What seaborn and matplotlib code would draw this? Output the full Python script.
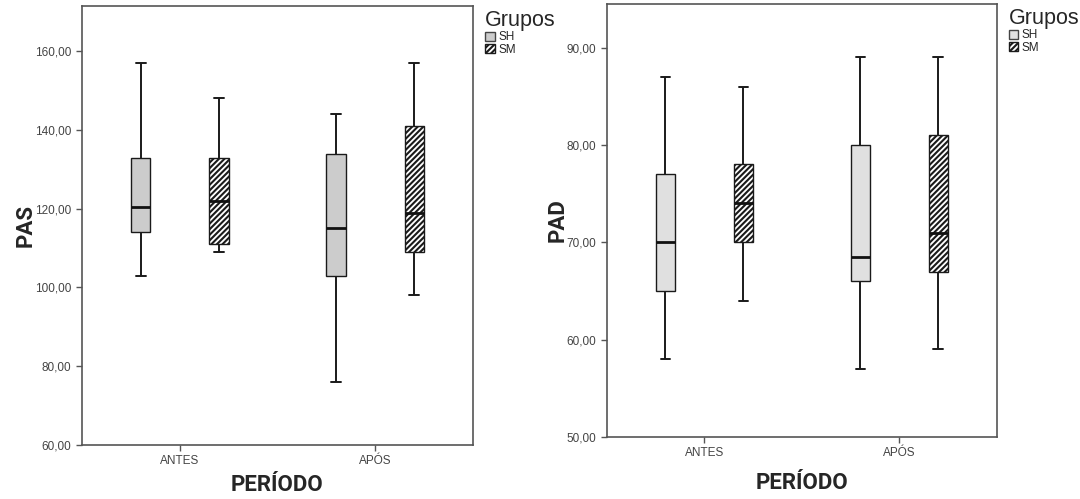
import pandas as pd
import matplotlib.pyplot as plt
import seaborn as sns
from matplotlib.patches import Patch
from matplotlib.ticker import FuncFormatter

# Categories
periodos = ['ANTES', 'APÓS']
grupos = ['SH', 'SM']

# Five-number summaries: min, Q1, median, Q3, max
pas_sh_antes = [103, 114, 120.5, 133, 157]
pas_sm_antes = [109, 111, 122, 133, 148]
pas_sh_apos = [76, 103, 115, 134, 144]
pas_sm_apos = [98, 109, 119, 141, 157]

pad_sh_antes = [58, 65, 70, 77, 87]
pad_sm_antes = [64, 70, 74, 78, 86]
pad_sh_apos = [57, 66, 68.5, 80, 89]
pad_sm_apos = [59, 67, 71, 81, 89]


def long_table(name, sh_antes, sm_antes, sh_apos, sm_apos):
    rows = []
    for per, grp, vals in [('ANTES', 'SH', sh_antes), ('ANTES', 'SM', sm_antes),
                           ('APÓS', 'SH', sh_apos), ('APÓS', 'SM', sm_apos)]:
        for v in vals:
            rows.append({'PERÍODO': per, 'Grupos': grp, name: v})
    return pd.DataFrame(rows)


pas = long_table('PAS', pas_sh_antes, pas_sm_antes, pas_sh_apos, pas_sm_apos)
pad = long_table('PAD', pad_sh_antes, pad_sm_antes, pad_sh_apos, pad_sm_apos)

sns.set_style('white')
plt.rcParams['font.family'] = ['Liberation Sans', 'DejaVu Sans']
plt.rcParams['hatch.linewidth'] = 1.5

narrow = ['Liberation Sans Narrow', 'DejaVu Sans Condensed', 'Roboto', 'DejaVu Sans']
comma_fmt = FuncFormatter(lambda v, p: f'{v:.2f}'.replace('.', ','))

fig = plt.figure(figsize=(10.8, 4.99), dpi=100)
ax1 = fig.add_axes([0.0759, 0.1082, 0.362, 0.880])
ax2 = fig.add_axes([0.562, 0.1242, 0.361, 0.868])

panels = [
    (ax1, pas, 'PAS', '#cccccc', (60, 171.5), range(60, 161, 20), 5),
    (ax2, pad, 'PAD', '#e0e0e0', (50, 94.5), range(50, 91, 10), 9),
]

for ax, df, var, sh_color, ylim, yticks, xpad in panels:
    sns.boxplot(data=df, x='PERÍODO', y=var, hue='Grupos', order=periodos,
                hue_order=grupos, palette={'SH': sh_color, 'SM': 'white'},
                width=0.8, gap=0.75, whis=(0, 100), linecolor='#1a1a1a',
                linewidth=1, legend=False, ax=ax,
                whiskerprops={'linewidth': 1.4}, capprops={'linewidth': 1.4},
                medianprops={'linewidth': 2, 'color': '#111111'})
    for patch in ax.patches:
        fc = patch.get_facecolor()
        if fc[0] > 0.99 and fc[1] > 0.99 and fc[2] > 0.99:
            patch.set_hatch('//////')
            patch.set_edgecolor('#1a1a1a')

    ax.set_xlim(-0.5, 1.5)
    ax.set_ylim(*ylim)
    ax.set_yticks(list(yticks))
    ax.yaxis.set_major_formatter(comma_fmt)
    ax.tick_params(axis='both', which='both', direction='out', length=4,
                   width=1, color='#555555', labelsize=8.5, labelcolor='#444444',
                   left=True, bottom=True)
    for sp in ax.spines.values():
        sp.set_color('#555555')
        sp.set_linewidth(1.2)
    ax.set_xlabel('PERÍODO', fontsize=16, fontweight='bold', family=narrow, labelpad=xpad)
    ax.set_ylabel(var, fontsize=16, fontweight='bold', family=narrow, labelpad=-1)

    handles = [Patch(facecolor=sh_color, edgecolor='#444444', label='SH'),
               Patch(facecolor='white', edgecolor='#1a1a1a', hatch='//////', label='SM')]
    leg = ax.legend(handles=handles, title='Grupos', loc='upper left',
                    bbox_to_anchor=(1.01, 1.01), frameon=False, fontsize=8.5,
                    title_fontsize=15.5, handlelength=0.8, handleheight=0.8,
                    handletextpad=0.3, labelspacing=0.05, borderpad=0.2)
    leg._legend_box.align = 'left'

fig.savefig('out.png', dpi=100)
